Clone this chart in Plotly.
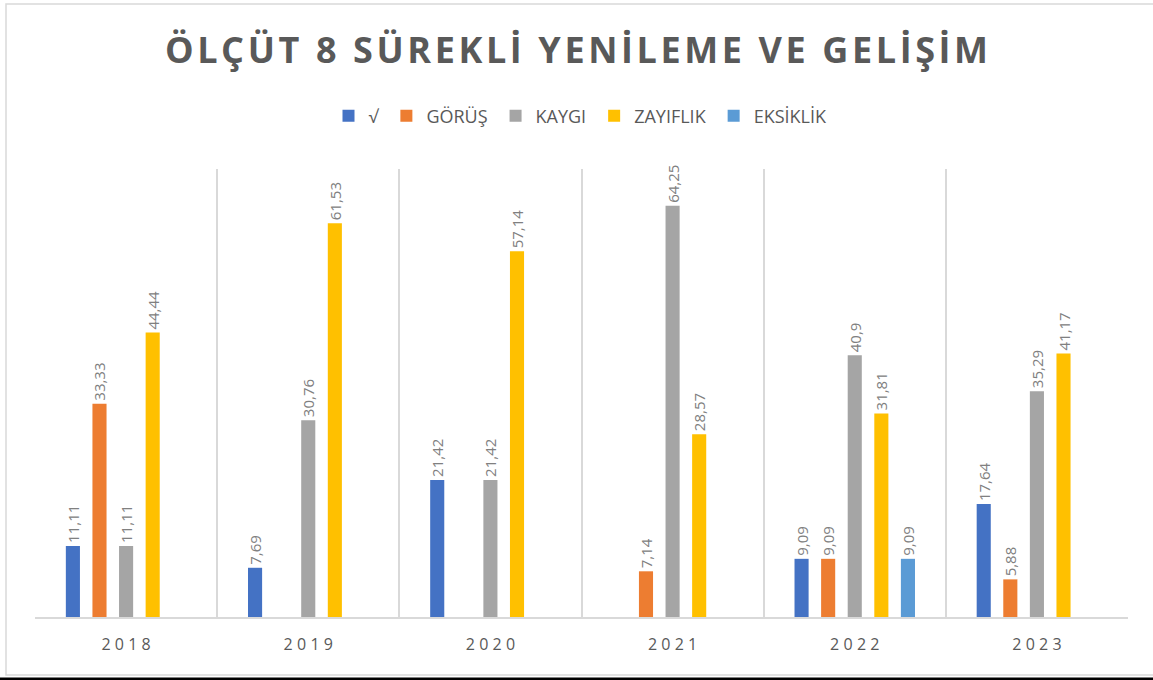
import plotly.graph_objects as go

years = ["2018", "2019", "2020", "2021", "2022", "2023"]
series_names = ["√", "GÖRÜŞ", "KAYGI", "ZAYIFLIK", "EKSİKLİK"]
v_check = [11.11, 7.69, 21.42, None, 9.09, 17.64]
v_gorus = [33.33, None, None, 7.14, 9.09, 5.88]
v_kaygi = [11.11, 30.76, 21.42, 64.25, 40.9, 35.29]
v_zayif = [44.44, 61.53, 57.14, 28.57, 31.81, 41.17]
v_eksik = [None, None, None, None, 9.09, None]
colors = ["#4472C4", "#ED7D31", "#A5A5A5", "#FFC000", "#5B9BD5"]

all_values = [v_check, v_gorus, v_kaygi, v_zayif, v_eksik]

def fmt(v):
    if v is None:
        return ""
    return ("%g" % v).replace(".", ",") + "\u2009"

spaced_years = ["\u2009\u200a".join(list(y)) for y in years]
title_text = "ÖLÇÜT 8 SÜREKLİ YENİLEME VE GELİŞİM"
spaced_title = "\u200a \u200a".join("\u200a".join(list(w)) for w in title_text.split(" "))

fig = go.Figure()
for name, vals, col in zip(series_names, all_values, colors):
    fig.add_trace(go.Bar(
        x=spaced_years, y=vals, name=name + "\u2009",
        marker=dict(color=col, line=dict(width=0)),
        text=[fmt(v) for v in vals],
        textposition="outside", textangle=-90, constraintext="none",
        textfont=dict(family="Open Sans", size=15, color="#808080"),
        cliponaxis=False,
    ))

# plot area: x 35..1128, y 169..617
L, R, T, B = 35, 1128, 169, 617
W, H = R - L, B - T
def px(x):
    return (x - L) / W
def py(y):
    return (B - y) / H

fig.update_layout(
    width=1153, height=680,
    margin=dict(l=L, r=1153 - R, t=T, b=680 - B),
    paper_bgcolor="white", plot_bgcolor="white",
    barmode="group", bargap=0.27, bargroupgap=0.47,
    title=dict(
        text=spaced_title,
        x=0.5, xanchor="center", y=1 - 50 / 680, yanchor="middle",
        font=dict(family="Open Sans", size=36, color="#595959", weight="bold"),
    ),
    legend=dict(
        orientation="h", x=0.5, xanchor="center", y=py(116), yanchor="middle",
        font=dict(family="Open Sans", size=18, color="#595959"),
        itemwidth=30, traceorder="normal",
    ),
    showlegend=True,
    xaxis=dict(
        type="category", tickson="boundaries", showgrid=True,
        gridcolor="#D9D9D9", gridwidth=1.5,
        showline=True, linecolor="#D9D9D9", linewidth=1.5,
        ticks="", tickfont=dict(family="Open Sans", size=16, color="#595959"),
        ticklabelstandoff=12,
    ),
    yaxis=dict(range=[0, 70], showgrid=False, showticklabels=False,
               zeroline=False, showline=False),
    shapes=[
        dict(type="rect", xref="paper", yref="paper",
             x0=px(6), x1=px(1160), y0=py(675), y1=py(4),
             line=dict(color="#D9D9D9", width=1.5), fillcolor="rgba(0,0,0,0)", layer="below"),
        dict(type="rect", xref="paper", yref="paper",
             x0=px(0), x1=px(1153), y0=py(681), y1=py(677.5),
             line=dict(width=0), fillcolor="black"),
    ],
)

fig.write_html(
    "out.html",
    config={"displayModeBar": False},
    post_script="document.body.style.margin='0';document.body.style.overflow='hidden';",
)
